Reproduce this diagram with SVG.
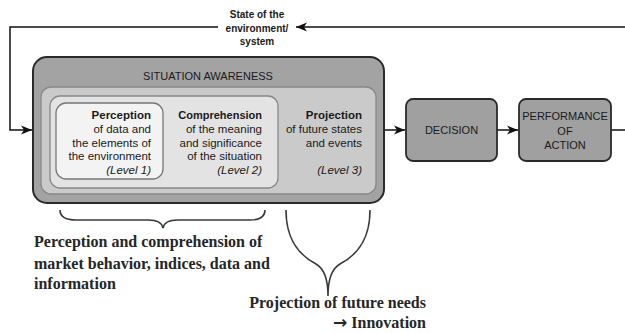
<svg xmlns="http://www.w3.org/2000/svg" width="625" height="333" viewBox="0 0 625 333">
<style>
.sans{font-family:"Liberation Sans",Arial,sans-serif;fill:#1a1a1a}
.b{font-weight:bold}
.it{font-style:italic}
.serif{font-family:"Liberation Serif","Times New Roman",serif;font-weight:bold;font-size:16px;fill:#262626}
.line{fill:none;stroke:#111;stroke-width:1.5}
.brace{fill:none;stroke:#3a3a3a;stroke-width:1.6}
.box{fill:#a0a0a0;stroke:#2a2a2a;stroke-width:1.8}
</style>
<defs>
<marker id="ah" markerWidth="12" markerHeight="10" refX="11" refY="5" orient="auto" markerUnits="userSpaceOnUse">
<path d="M0,0.5 L11,5 L0,9.5 L3,5 Z" fill="#111"/>
</marker>
</defs>
<g id="connectors">
<path class="line" d="M218,27 H10 V130 H32" marker-end="url(#ah)"/>
<path class="line" d="M625,27 H296" marker-end="url(#ah)"/>
<path class="line" d="M384,130 H405" marker-end="url(#ah)"/>
<path class="line" d="M497,130 H518" marker-end="url(#ah)"/>
<path class="line" d="M611,130 H625"/>
</g>
<g id="state-label" class="sans b" font-size="10" text-anchor="middle">
<text x="257" y="18">State of the</text>
<text x="257" y="32">environment/</text>
<text x="257" y="45">system</text>
</g>
<g id="situation-awareness">
<rect x="33" y="57" width="351" height="146" rx="14" fill="#a3a3a3" stroke="#2a2a2a" stroke-width="2"/>
<text class="sans" x="208" y="80" font-size="11" text-anchor="middle">SITUATION AWARENESS</text>
<rect x="41" y="87" width="335" height="107" rx="10" fill="#cacaca" stroke="#888" stroke-width="1.3"/>
</g>
<g id="projection">
<g class="sans" font-size="11.5" text-anchor="end">
<text class="b" x="362" y="119">Projection</text>
<text x="362" y="133">of future states</text>
<text x="362" y="147">and events</text>
<text class="it" x="362" y="174">(Level 3)</text>
</g>
</g>
<g id="comprehension">
<rect x="50" y="96" width="228" height="92" rx="10" fill="#e3e3e3" stroke="#888" stroke-width="1.3"/>
<g class="sans" font-size="11.5" text-anchor="end">
<text class="b" x="262" y="119" font-size="11">Comprehension</text>
<text x="262" y="133">of the meaning</text>
<text x="262" y="147">and significance</text>
<text x="262" y="160">of the situation</text>
<text class="it" x="262" y="174">(Level 2)</text>
</g>
</g>
<g id="perception">
<rect x="56" y="103" width="107" height="76" rx="10" fill="#f3f3f3" stroke="#777" stroke-width="1.3"/>
<g class="sans" font-size="11.5" text-anchor="end">
<text class="b" x="151" y="119">Perception</text>
<text x="151" y="133">of data and</text>
<text x="151" y="147">the elements of</text>
<text x="151" y="160">the environment</text>
<text class="it" x="151" y="174">(Level 1)</text>
</g>
</g>
<g id="decision">
<rect class="box" x="406" y="99" width="91" height="62" rx="7"/>
<text class="sans" x="451.5" y="134" font-size="11" text-anchor="middle">DECISION</text>
</g>
<g id="performance">
<rect class="box" x="519" y="99" width="92" height="62" rx="7"/>
<g class="sans" font-size="11" text-anchor="middle">
<text x="565" y="120">PERFORMANCE</text>
<text x="565" y="135">OF</text>
<text x="565" y="149">ACTION</text>
</g>
</g>
<g id="brace-left">
<path class="brace" d="M60,210 C60,217 65,220 76,220 H148 C157,220 162,222 163,228 C164,222 169,220 178,220 H250 C260,220 265,217 265,210"/>
<text class="serif" x="34" y="247">Perception and comprehension of</text>
<text class="serif" x="34" y="269">market behavior, indices, data and</text>
<text class="serif" x="34" y="289">information</text>
</g>
<g id="brace-right">
<path class="brace" d="M286,210 C286,238 297,254 316,264 C325,269 328,280 328,296 M370,210 C370,238 359,254 340,264 C331,269 328,280 328,296"/>
<text class="serif" x="426" y="308" text-anchor="end">Projection of future needs</text>
<text class="serif" x="426" y="328" text-anchor="end"><tspan font-family="'DejaVu Sans',sans-serif" font-size="17">→</tspan> Innovation</text>
</g>
</svg>
